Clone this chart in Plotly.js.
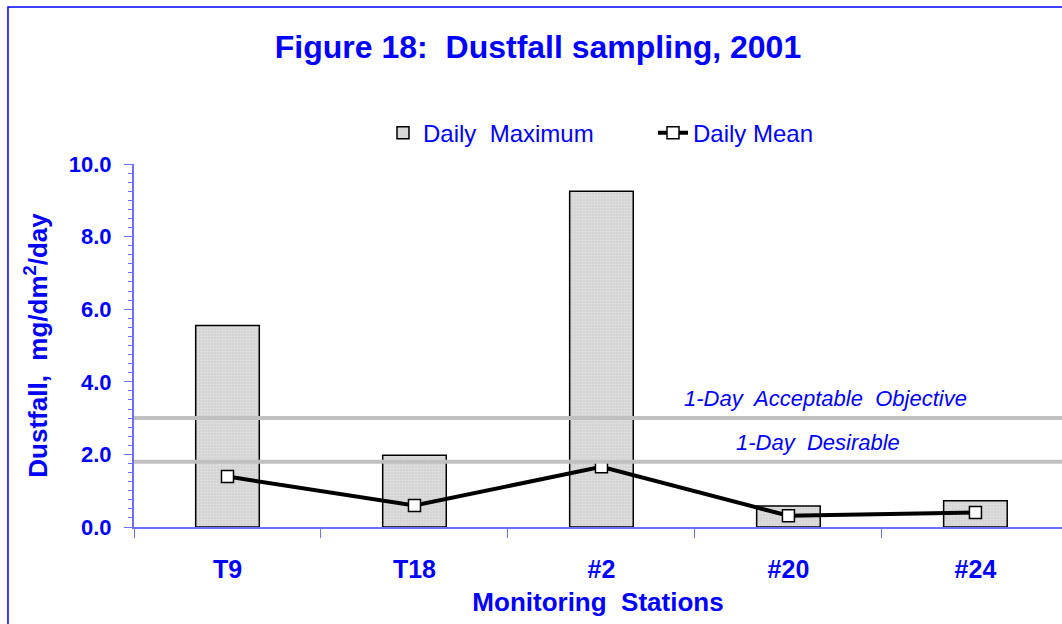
<!DOCTYPE html>
<html>
<head>
<meta charset="utf-8">
<script src="https://cdn.plot.ly/plotly-3.0.1.min.js"></script>
<style>
  html, body { margin: 0; padding: 0; background: #ffffff; }
  #chart { width: 1062px; height: 624px; }
</style>
</head>
<body>
<div id="chart"></div>
<script>
// ---- data ----
const stations = ["T9", "T18", "#2", "#20", "#24"];
const dailyMaximum = [5.55, 1.98, 9.25, 0.58, 0.72];
const dailyMean = [1.39, 0.59, 1.66, 0.31, 0.40];
const objectiveLabels = ["1-Day  Acceptable  Objective", "1-Day  Desirable"];
const objectiveValues = [3.0, 1.8];
const yTickValues = [0, 2, 4, 6, 8, 10];

const BLUE = "#0000ff";
const AXIS = "rgb(110,110,255)";
const FONT = "Liberation Sans, Arial, sans-serif";

const traces = [
  {
    type: "bar",
    name: "Daily  Maximum",
    x: stations,
    y: dailyMaximum,
    width: 0.34,
    marker: {
      color: "#d4d4d4",
      line: { color: "#000000", width: 1.5 },
      pattern: { shape: ".", fillmode: "overlay", fgcolor: "#ededed", size: 3, solidity: 0.4 }
    }
  },
  {
    type: "scatter",
    mode: "lines+markers",
    name: "Daily Mean",
    x: stations,
    y: dailyMean,
    line: { color: "#000000", width: 4 },
    marker: { symbol: "square", size: 12, color: "#ffffff", line: { color: "#000000", width: 1.5 } }
  }
];

const shapes = objectiveValues.map(v => ({
  type: "line", xref: "paper", yref: "y", x0: 0, x1: 1, y0: v, y1: v,
  line: { color: "#c0c0c0", width: 4 }, layer: "above"
}));
// outer frame (top and left edges visible in the reference)
shapes.push({
  type: "path", xref: "paper", yref: "paper",
  path: "M -0.1358 -0.4 L -0.1358 1.4325 L 1.05 1.4325",
  line: { color: BLUE, width: 1.5 }
});

const annXs = [0.745, 0.737];
const annotations = objectiveLabels.map((t, i) => ({
  text: t, xref: "paper", yref: "y", x: annXs[i], y: objectiveValues[i],
  xanchor: "center", yanchor: "bottom", yshift: 5, showarrow: false,
  font: { family: FONT, size: 22, color: BLUE, style: "italic" }
}));

const layout = {
  width: 1062, height: 624,
  margin: { l: 134, r: 0, t: 164, b: 97 },
  paper_bgcolor: "#ffffff", plot_bgcolor: "#ffffff",
  font: { family: FONT, color: BLUE },
  title: {
    text: "Figure 18:  Dustfall sampling, 2001",
    x: 538 / 1062, xanchor: "center", xref: "container",
    y: 1 - 47 / 624, yanchor: "middle", yref: "container",
    font: { family: FONT, size: 32, color: BLUE, weight: "bold" }
  },
  showlegend: true,
  legend: {
    orientation: "h", x: (383 - 134) / 928, xanchor: "left", y: 1.085, yanchor: "middle",
    font: { family: FONT, size: 24, color: BLUE }, bgcolor: "rgba(0,0,0,0)",
    traceorder: "normal", entrywidth: 225
  },
  xaxis: {
    type: "category",
    range: [-0.5, 4.463],
    tickson: "boundaries",
    ticks: "outside", ticklen: 9, tickcolor: AXIS, tickwidth: 1,
    showline: true, linecolor: AXIS, linewidth: 2,
    showgrid: false, zeroline: false,
    ticklabelstandoff: 19,
    tickfont: { family: FONT, size: 25, color: BLUE, weight: "bold" },
    title: { text: "Monitoring  Stations", standoff: 11,
      font: { family: FONT, size: 26, color: BLUE, weight: "bold" } }
  },
  yaxis: {
    range: [0, 10],
    tickvals: yTickValues,
    tickformat: ".1f",
    ticks: "outside", ticklen: 8, tickcolor: AXIS, tickwidth: 1,
    minor: { dtick: 0.25, ticks: "outside", ticklen: 4, tickcolor: AXIS },
    showline: true, linecolor: AXIS, linewidth: 2,
    showgrid: false, zeroline: false,
    ticklabelstandoff: 8,
    tickfont: { family: FONT, size: 22, color: BLUE, weight: "bold" },
    title: { text: "Dustfall,  mg/dm<sup>2</sup>/day", standoff: 14,
      font: { family: FONT, size: 26, color: BLUE, weight: "bold" } }
  },
  shapes: shapes,
  annotations: annotations,
  bargap: 0.66
};

Plotly.newPlot("chart", traces, layout, { displayModeBar: false, staticPlot: true });
</script>
</body>
</html>
